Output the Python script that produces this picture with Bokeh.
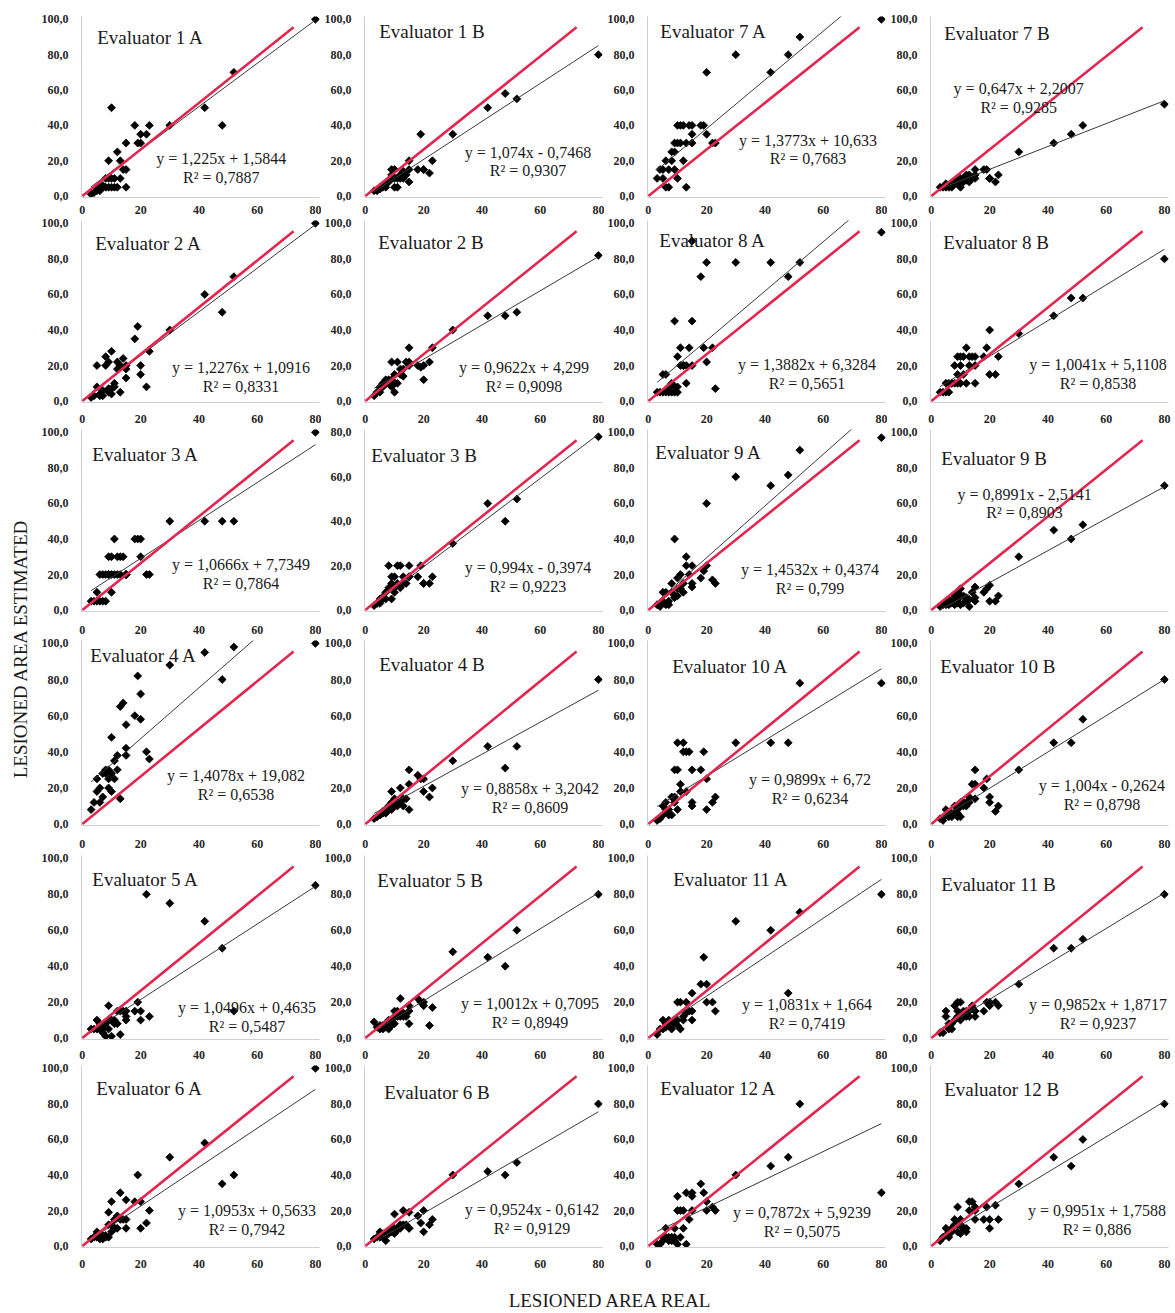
import math
from bokeh.plotting import figure
from bokeh.layouts import row, column, gridplot
from bokeh.models import Range1d, FixedTicker, CustomJSTickFormatter, Label
from bokeh.embed import file_html
from bokeh.resources import INLINE

# ---------------- DATA ----------------
# real lesioned area (%) of the evaluated leaves (shared by all evaluators)
real_area = [3, 4, 5, 5, 6, 6, 7, 7, 8, 8, 9, 9, 9, 10, 10, 10, 11, 11, 12, 12,
             13, 13, 14, 15, 15, 15, 18, 19, 20, 20, 22, 23, 30, 42, 48, 52, 80]

# estimated lesioned area per evaluator / session (A, B)
est_1A = [1, 2, 3, 4, 5, 3, 5, 6, 5, 10, 20, 5, 10, 50, 10, 5, 5, 10, 25, 5, 10, 20, 15, 5, 30, 15, 40, 30, 35, 30, 35, 40, 40, 50, 40, 70, 100]
est_1B = [3, 3, 4, 5, 5, 6, 5, 7, 8, 9, 10, 15, 12, 15, 5, 10, 5, 10, 12, 10, 10, 14, 12, 20, 15, 8, 15, 35, 15, 15, 13, 20, 35, 50, 58, 55, 80]
est_2A = [2, 3, 20, 8, 4, 3, 3, 6, 20, 25, 7, 22, 5, 28, 7, 4, 8, 10, 22, 18, 20, 5, 24, 13, 18, 20, 35, 42, 15, 20, 8, 28, 40, 60, 50, 70, 100]
est_2B = [3, 5, 5, 8, 10, 8, 12, 10, 10, 12, 8, 22, 12, 15, 5, 10, 22, 10, 15, 18, 14, 18, 22, 20, 30, 22, 20, 19, 20, 12, 22, 30, 40, 48, 48, 50, 82]
est_3A = [5, 5, 10, 5, 20, 5, 5, 20, 5, 20, 20, 30, 20, 10, 30, 20, 40, 20, 20, 30, 20, 30, 30, 20, 20, 20, 40, 40, 30, 40, 20, 20, 50, 50, 50, 50, 100]
est_3B = [2, 3, 3, 5, 5, 6, 5, 8, 10, 20, 5, 12, 15, 15, 8, 10, 12, 20, 10, 20, 15, 12, 12, 20, 15, 15, 15, 20, 12, 12, 12, 15, 30, 48, 40, 50, 78]
est_4A = [8, 12, 25, 18, 12, 20, 15, 28, 30, 28, 25, 30, 20, 48, 18, 28, 25, 35, 38, 30, 65, 14, 67, 55, 42, 38, 60, 82, 72, 58, 40, 36, 88, 95, 80, 98, 100]
est_4B = [3, 4, 5, 5, 6, 7, 8, 6, 10, 8, 18, 8, 12, 12, 14, 10, 10, 12, 12, 20, 14, 10, 14, 30, 22, 8, 27, 25, 25, 18, 15, 20, 35, 43, 31, 43, 80]
est_5A = [5, 5, 10, 5, 5, 8, 3, 5, 1, 8, 18, 10, 5, 10, 1, 10, 10, 8, 15, 8, 2, 15, 15, 12, 15, 10, 15, 20, 10, 15, 80, 12, 75, 65, 50, 15, 85]
est_5B = [9, 6, 5, 7, 7, 5, 8, 6, 5, 10, 10, 8, 7, 12, 8, 15, 15, 12, 22, 12, 14, 12, 12, 15, 18, 8, 22, 20, 18, 20, 7, 17, 48, 45, 40, 60, 80]
est_6A = [4, 5, 8, 5, 5, 4, 4, 6, 6, 5, 12, 19, 5, 25, 8, 12, 15, 10, 17, 10, 30, 15, 15, 10, 26, 15, 25, 40, 10, 25, 13, 20, 50, 58, 35, 40, 100]
est_6B = [4, 5, 8, 5, 5, 7, 3, 6, 8, 7, 10, 8, 9, 18, 7, 10, 9, 10, 10, 12, 20, 12, 12, 10, 19, 10, 17, 13, 20, 8, 12, 15, 40, 42, 40, 47, 80]
est_7A = [10, 15, 15, 10, 5, 20, 15, 5, 25, 20, 30, 15, 25, 40, 30, 10, 40, 30, 40, 20, 5, 30, 40, 35, 30, 40, 40, 40, 35, 70, 30, 30, 80, 70, 80, 90, 100]
est_7B = [5, 5, 5, 7, 6, 5, 5, 6, 8, 7, 8, 9, 7, 10, 5, 8, 8, 10, 12, 9, 12, 8, 10, 15, 10, 12, 15, 15, 10, 10, 8, 12, 25, 30, 35, 40, 52]
est_8A = [5, 5, 15, 5, 15, 5, 5, 8, 5, 10, 45, 8, 5, 25, 5, 8, 30, 20, 20, 20, 10, 20, 30, 90, 45, 20, 70, 30, 78, 22, 30, 7, 78, 78, 70, 78, 95]
est_8B = [5, 5, 10, 5, 10, 5, 10, 10, 20, 10, 25, 15, 10, 20, 10, 25, 25, 15, 30, 10, 25, 20, 25, 10, 25, 20, 25, 30, 40, 15, 15, 25, 38, 48, 58, 58, 80]
est_9A = [3, 2, 10, 5, 3, 10, 3, 5, 15, 10, 40, 7, 8, 18, 8, 12, 20, 12, 10, 15, 30, 25, 20, 25, 15, 13, 18, 22, 25, 60, 17, 15, 75, 70, 76, 90, 97]
est_9B = [2, 3, 5, 3, 6, 3, 4, 5, 8, 3, 10, 6, 4, 12, 3, 8, 8, 4, 5, 7, 2, 6, 10, 13, 7, 5, 10, 12, 14, 5, 5, 8, 30, 45, 40, 48, 70]
est_10A = [2, 3, 10, 5, 12, 8, 8, 5, 15, 5, 30, 15, 12, 45, 30, 8, 18, 22, 45, 40, 18, 40, 40, 30, 12, 10, 30, 40, 25, 8, 12, 15, 45, 45, 45, 78, 78]
est_10B = [3, 2, 8, 5, 5, 4, 4, 6, 10, 6, 6, 8, 4, 12, 4, 10, 10, 12, 12, 10, 15, 12, 22, 30, 22, 14, 20, 25, 15, 12, 7, 10, 30, 45, 45, 58, 80]
est_11A = [2, 5, 10, 5, 8, 6, 10, 7, 5, 8, 8, 10, 9, 20, 7, 10, 20, 5, 10, 12, 20, 14, 15, 25, 15, 10, 30, 45, 30, 20, 20, 15, 65, 60, 25, 70, 80]
est_11B = [3, 3, 15, 12, 5, 8, 5, 8, 18, 10, 20, 15, 12, 10, 20, 12, 12, 15, 15, 12, 12, 15, 18, 15, 12, 15, 15, 20, 20, 18, 20, 18, 30, 50, 50, 55, 80]
est_12A = [1, 1, 5, 3, 10, 5, 3, 5, 5, 3, 10, 3, 5, 28, 20, 1, 20, 5, 20, 10, 30, 1, 15, 30, 28, 20, 35, 30, 25, 20, 22, 20, 40, 45, 50, 80, 30]
est_12B = [3, 5, 10, 6, 5, 8, 8, 10, 15, 12, 22, 12, 8, 15, 7, 12, 10, 10, 8, 10, 25, 20, 25, 15, 20, 22, 15, 22, 10, 15, 23, 15, 35, 50, 45, 60, 80]

# panels in reading order (rows of the grid)
panel_names = ["1 A", "1 B", "7 A", "7 B",
               "2 A", "2 B", "8 A", "8 B",
               "3 A", "3 B", "9 A", "9 B",
               "4 A", "4 B", "10 A", "10 B",
               "5 A", "5 B", "11 A", "11 B",
               "6 A", "6 B", "12 A", "12 B"]
estimates = [est_1A, est_1B, est_7A, est_7B,
             est_2A, est_2B, est_8A, est_8B,
             est_3A, est_3B, est_9A, est_9B,
             est_4A, est_4B, est_10A, est_10B,
             est_5A, est_5B, est_11A, est_11B,
             est_6A, est_6B, est_12A, est_12B]
slopes = [1.225, 1.074, 1.3773, 0.647,
          1.2276, 0.9622, 1.3882, 1.0041,
          1.0666, 0.994, 1.4532, 0.8991,
          1.4078, 0.8858, 0.9899, 1.004,
          1.0496, 1.0012, 1.0831, 0.9852,
          1.0953, 0.9524, 0.7872, 0.9951]
intercepts = [1.5844, -0.7468, 10.633, 2.2007,
              1.0916, 4.299, 6.3284, 5.1108,
              7.7349, -0.3974, 0.4374, -2.5141,
              19.082, 3.2042, 6.72, -0.2624,
              0.4635, 0.7095, 1.664, 1.8717,
              0.5633, -0.6142, 5.9239, 1.7588]
r_squared = [0.7887, 0.9307, 0.7683, 0.9285,
             0.8331, 0.9098, 0.5651, 0.8538,
             0.7864, 0.9223, 0.799, 0.8903,
             0.6538, 0.8609, 0.6234, 0.8798,
             0.5487, 0.8949, 0.7419, 0.9237,
             0.7942, 0.9129, 0.5075, 0.886]
y_axis_max = [100, 100, 100, 100,
              100, 100, 100, 100,
              100, 80, 100, 100,
              100, 100, 100, 100,
              100, 100, 100, 100,
              100, 100, 100, 100]
x_ticks = [0, 20, 40, 60, 80]

# ---------------- LAYOUT ----------------
# pixel offsets measured from the (0, max) corner of each plot (axes span 235 x 181 px)
title_off = [(15, 19), (14, 12), (12, 12), (13, 14),
             (13, 21), (13, 19), (11, 17), (12, 19),
             (10, 23), (6, 24), (7, 21), (10, 27),
             (8, 12), (14, 21), (24, 23), (9, 23),
             (10, 21), (12, 22), (25, 21), (10, 26),
             (14, 21), (19, 25), (12, 21), (13, 22)]
eq_off = [(140, 143), (164, 136), (161, 124), (88, 71),
          (160, 147), (160, 147), (160, 144), (168, 144),
          (160, 135), (164, 138), (163, 140), (94, 63),
          (155, 132), (166, 145), (163, 136), (172, 142),
          (166, 150), (166, 146), (160, 147), (168, 147),
          (166, 145), (168, 144), (155, 147), (167, 145)]

FONT = "Liberation Serif"
AX_W, AX_H = 235.0, 181.0          # pixel span of 0..80 and 0..max
X_LO, X_HI = -0.3, 81.4            # x range (small padding)
Y_LO_F, Y_HI_F = -0.008, 1.016     # y range as fraction of max
FW = 240                           # frame width (px)
FH = 185                           # frame height (px)
BL = 41
BR = [2, 2, 2, 7]
ROW_T = [16, 4, 4, 4, 4, 4]
ROW_B = [15, 20, 22, 26, 21, 20]
ROW_XSTANDOFF = [2, 6, 8, 8, 5, 6]
YLAB_W = 38
RED = "#e2264f"
TXT = "#1a1a1a"


def fmt_num(v):
    return str(v).replace(".", ",")


figs = []
for k, name in enumerate(panel_names):
    r_i, c_i = divmod(k, 4)
    ymax = y_axis_max[k]
    y_lo, y_hi = Y_LO_F * ymax, Y_HI_F * ymax
    p = figure(width=BL + FW + BR[c_i], height=ROW_T[r_i] + FH + ROW_B[r_i],
               x_range=Range1d(X_LO, X_HI), y_range=Range1d(y_lo, y_hi),
               toolbar_location=None, output_backend="svg",
               min_border_left=BL, min_border_right=BR[c_i],
               min_border_top=ROW_T[r_i], min_border_bottom=ROW_B[r_i])
    p.outline_line_color = None
    p.grid.visible = False

    p.xaxis.ticker = FixedTicker(ticks=x_ticks)
    p.yaxis.ticker = FixedTicker(ticks=list(range(0, ymax + 1, 20)))
    p.yaxis.formatter = CustomJSTickFormatter(code="return tick.toFixed(1).replace('.', ',');")
    for ax in (p.xaxis[0], p.yaxis[0]):
        ax.axis_line_color = "#cfcfcf"
        ax.axis_line_width = 1
        ax.major_tick_line_color = None
        ax.minor_tick_line_color = None
        ax.major_label_text_font = FONT
        ax.major_label_text_font_size = "12px"
        ax.major_label_text_font_style = "bold"
        ax.major_label_text_color = "#262626"
    p.xaxis.major_label_standoff = ROW_XSTANDOFF[r_i]
    p.yaxis.major_label_standoff = 7

    ys = estimates[k]
    p.scatter(real_area, ys, marker="square", angle=math.pi / 4, size=5.6,
              fill_color="black", line_color="black", line_width=0.8)

    # linear trend line over the range of the real values
    tx = [min(real_area), max(real_area)]
    ty = [slopes[k] * v + intercepts[k] for v in tx]
    p.line(tx, ty, line_color="#3a3a3a", line_width=1)

    # red reference line
    p.line([0, 72.5], [0, 0.955 * ymax], line_color=RED, line_width=2.6)

    def to_data(dx, dy):
        return dx / AX_W * 80.0, ymax * (1.0 - dy / AX_H)

    tx_, ty_ = to_data(*title_off[k])
    p.add_layout(Label(x=tx_, y=ty_, text="Evaluator " + name, text_align="left",
                       text_baseline="middle", text_font=FONT,
                       text_font_size="19px", text_color=TXT))

    b = intercepts[k]
    sign = "+" if b >= 0 else "-"
    eq = "y = " + fmt_num(slopes[k]) + "x " + sign + " " + fmt_num(abs(b))
    r2 = "R\u00b2 = " + fmt_num(r_squared[k])
    ex, ey = to_data(*eq_off[k])
    _, ey2 = to_data(eq_off[k][0], eq_off[k][1] + 19)
    p.add_layout(Label(x=ex, y=ey, text=eq, text_align="center", text_baseline="middle",
                       text_font=FONT, text_font_size="16px", text_color=TXT))
    p.add_layout(Label(x=ex, y=ey2, text=r2, text_align="center", text_baseline="middle",
                       text_font=FONT, text_font_size="16px", text_color=TXT))
    figs.append(p)

grid_rows = [figs[i:i + 4] for i in range(0, 24, 4)]
grid = gridplot(grid_rows, toolbar_location=None)

GRID_H = sum(ROW_T) + sum(ROW_B) + 6 * FH
ylab = figure(width=YLAB_W, height=GRID_H, x_range=Range1d(0, YLAB_W), y_range=Range1d(0, GRID_H),
              toolbar_location=None, output_backend="svg", x_axis_type=None, y_axis_type=None,
              min_border=0)
ylab.outline_line_color = None
ylab.grid.visible = False
ylab.add_layout(Label(x=20, y=GRID_H - 648, text="LESIONED AREA ESTIMATED", angle=math.pi / 2,
                      text_align="center", text_baseline="middle", text_font=FONT,
                      text_font_size="19px", text_color=TXT))

TOTAL_W = YLAB_W + 4 * (BL + FW) + sum(BR)
XL_H = 1313 - GRID_H
xlab = figure(width=TOTAL_W, height=XL_H, x_range=Range1d(0, TOTAL_W), y_range=Range1d(0, XL_H),
              toolbar_location=None, output_backend="svg", x_axis_type=None, y_axis_type=None,
              min_border=0)
xlab.outline_line_color = None
xlab.grid.visible = False
xlab.add_layout(Label(x=610, y=XL_H - (1300 - GRID_H), text="LESIONED AREA REAL",
                      text_align="center", text_baseline="middle", text_font=FONT,
                      text_font_size="19px", text_color=TXT))

root = column(row(ylab, grid), xlab)

with open("out.html", "w") as f:
    f.write(file_html(root, INLINE))
